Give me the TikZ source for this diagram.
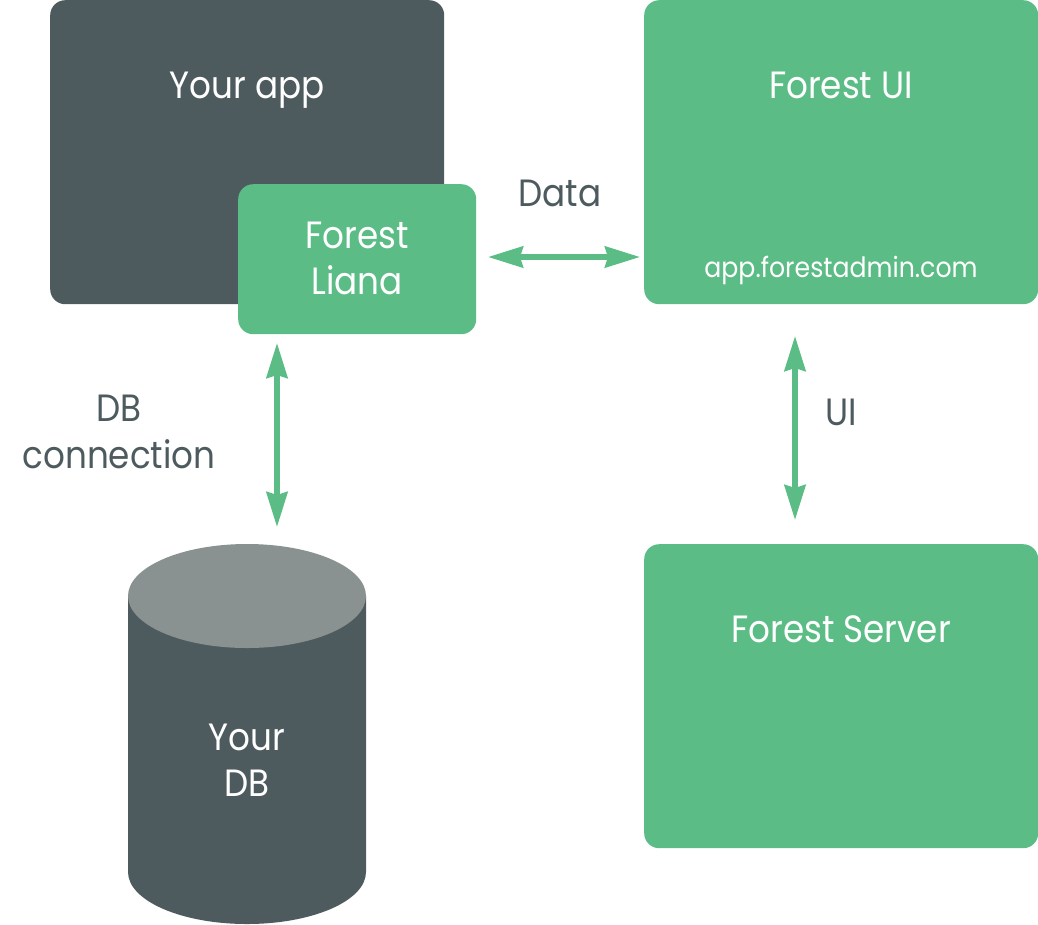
\documentclass[tikz,border=0pt]{standalone}
\usepackage{fontspec}
\setmainfont[FakeStretch=0.9]{Poppins}
\usetikzlibrary{arrows.meta}
\definecolor{fgreen}{HTML}{5BBD85}
\definecolor{fdark}{HTML}{4E5B5E}
\definecolor{fgrey}{HTML}{8A9191}
\tikzset{
  x=1pt,y=-1pt,
  darkbox/.style={fill=fdark,rounded corners=15pt,inner sep=0pt,anchor=north west},
  greenbox/.style={fill=fgreen,rounded corners=15pt,inner sep=0pt,anchor=north west},
  whitetext/.style={text=white,font=\fontsize{38}{46}\selectfont,align=center,inner sep=0pt,text depth=0pt},
  whiteline/.style={text=white,font=\fontsize{38}{46}\selectfont,inner sep=0pt,anchor=base},
  smalltext/.style={text=white,font=\fontsize{28}{34}\selectfont,inner sep=0pt,anchor=base},
  darktext/.style={text=fdark,font=\fontsize{38}{46}\selectfont,align=center,inner sep=0pt,anchor=base},
  link/.style={draw=fgreen,line width=5.5pt,{Stealth[length=35pt,width=21pt,inset=3pt]}-{Stealth[length=35pt,width=21pt,inset=3pt]}},
}
\begin{document}
\begin{tikzpicture}
\useasboundingbox (0,0) rectangle (1038,924);
% boxes
\node[darkbox,minimum width=394pt,minimum height=304pt] (app) at (50,0) {};
\node[greenbox,minimum width=238pt,minimum height=150pt] (liana) at (238,184) {};
\node[greenbox,minimum width=394pt,minimum height=304pt] (ui) at (644,0) {};
\node[greenbox,minimum width=394pt,minimum height=304pt] (server) at (644,544) {};
% cylinder
\fill[fdark] (128,596) -- (128,872) arc[start angle=180,end angle=0,x radius=119,y radius=52] -- (366,596) -- cycle;
\fill[fgrey] (247,596) ellipse[x radius=119,y radius=52];
% labels
\node[whiteline] (tapp) at (247,98) {Your app};
\node[whiteline] (tliana1) at (357,248) {Forest};
\node[whiteline] (tliana2) at (357,294) {Liana};
\node[whiteline] (tui) at (841,98) {Forest UI};
\node[smalltext] (turl) at (841,277) {app.forestadmin.com};
\node[whiteline] (tserver) at (841,642) {Forest Server};
\node[whiteline] (tdb1) at (247,750) {Your};
\node[whiteline] (tdb2) at (247,796) {DB};
\node[darktext] (tdata) at (560,206) {Data};
\node[darktext] (tconn1) at (119,421) {DB};
\node[darktext] (tconn2) at (119,468) {connection};
\node[darktext] (tuil) at (841,425) {UI};
% connectors
\coordinate (c1) at (488,257);
\coordinate (c2) at (640,257);
\coordinate (c3) at (277,343);
\coordinate (c4) at (277,527);
\coordinate (c5) at (795,336);
\coordinate (c6) at (795,520);
\draw[link] (c1) -- (c2);
\draw[link] (c3) -- (c4);
\draw[link] (c5) -- (c6);
\end{tikzpicture}
\end{document}
